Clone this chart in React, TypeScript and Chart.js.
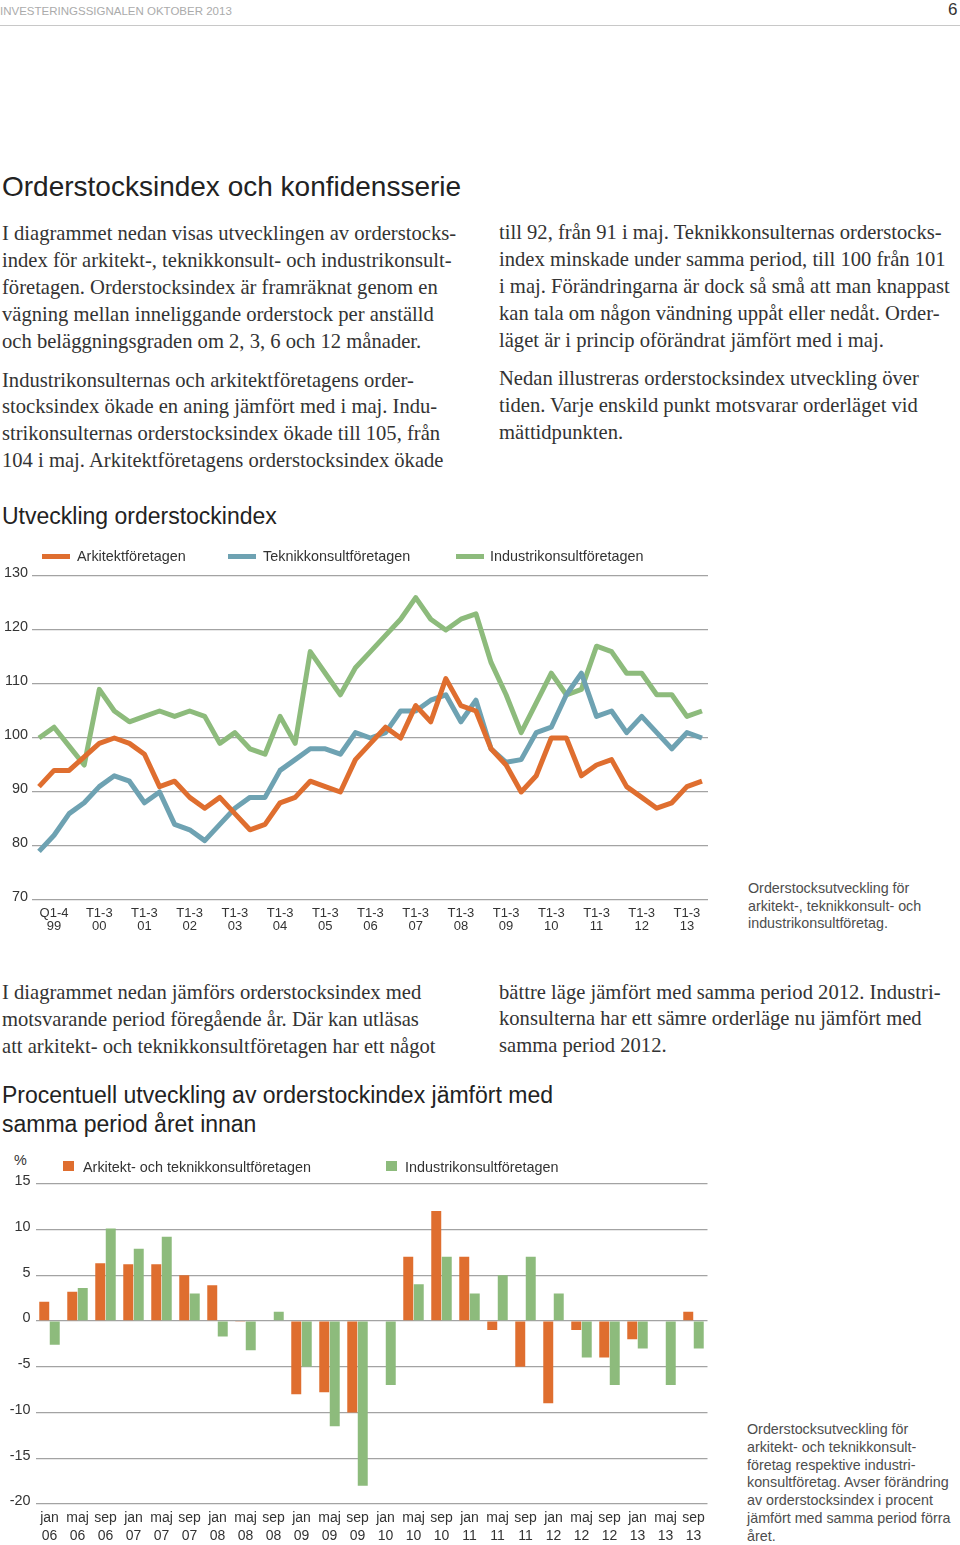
import React, { useEffect, useRef } from "react";
import { Chart, registerables } from "chart.js";

Chart.register(...registerables);

// ---------- Data: Utveckling orderstockindex (45 tertial points, 1999–2013) ----------
const lineYearLabels: string[][] = [
  ["Q1-4", "99"], ["T1-3", "00"], ["T1-3", "01"], ["T1-3", "02"], ["T1-3", "03"],
  ["T1-3", "04"], ["T1-3", "05"], ["T1-3", "06"], ["T1-3", "07"], ["T1-3", "08"],
  ["T1-3", "09"], ["T1-3", "10"], ["T1-3", "11"], ["T1-3", "12"], ["T1-3", "13"],
];
const arkitekt = [
  91, 94, 94, 96.5, 99, 100, 99, 97, 91, 92, 89, 87, 89, 86, 83,
  84, 88, 89, 92, 91, 90, 96, 99, 102, 100, 106, 103, 111, 106, 105,
  98, 95, 90, 93, 100, 100, 93, 95, 96, 91, 89, 87, 88, 91, 92,
];
const teknik = [
  79, 82, 86, 88, 91, 93, 92, 88, 90, 84, 83, 81, 84, 87, 89,
  89, 94, 96, 98, 98, 97, 101, 100, 101, 105, 105, 107, 108, 103, 107,
  98, 95.5, 96, 101, 102, 108, 112, 104, 105, 101, 104, 101, 98, 101, 100,
];
const industri = [
  100, 102, 98.5, 95, 109, 105, 103, 104, 105, 104, 105, 104, 99, 101, 98,
  97, 104, 99, 116, 112, 108, 113, 116, 119, 122, 126, 122, 120, 122, 123,
  114, 108, 101, 106.5, 112, 108, 109, 117, 116, 112, 112, 108, 108, 104, 105,
];
const lineSeriesNames = ["Arkitektföretagen", "Teknikkonsultföretagen", "Industrikonsultföretagen"];

// ---------- Data: Procentuell utveckling (jan/maj/sep 2006–2013) ----------
const barLabels: string[][] = [
  ["jan", "06"], ["maj", "06"], ["sep", "06"],
  ["jan", "07"], ["maj", "07"], ["sep", "07"],
  ["jan", "08"], ["maj", "08"], ["sep", "08"],
  ["jan", "09"], ["maj", "09"], ["sep", "09"],
  ["jan", "10"], ["maj", "10"], ["sep", "10"],
  ["jan", "11"], ["maj", "11"], ["sep", "11"],
  ["jan", "12"], ["maj", "12"], ["sep", "12"],
  ["jan", "13"], ["maj", "13"], ["sep", "13"],
];
const barArkTek = [
  2.1, 3.2, 6.3, 6.2, 6.2, 5.0, 3.9, -0.1, 0, -8.0, -7.8, -10,
  0, 7, 12, 7, -1, -5, -9, -1, -4, -2, 0, 1,
];
const barIndustri = [
  -2.6, 3.6, 10.1, 7.9, 9.2, 3.0, -1.7, -3.2, 1.0, -5.0, -11.5, -18,
  -7, 4, 7, 3, 5, 7, 3, -4, -7, -3, -7, -3,
];
const barSeriesNames = ["Arkitekt- och teknikkonsultföretagen", "Industrikonsultföretagen"];

// ---------- Styles ----------
const ORANGE = "#DF6E2F";
const TEAL = "#6EA2B2";
const GREEN = "#8DBB7C";
const GRID = "#a3a3a3";
const SANS = "'Liberation Sans', Arial, Helvetica, sans-serif";
const SERIF = "'Liberation Serif', 'Times New Roman', serif";
const TEXT = "#333";

function useChart(ref: React.RefObject<HTMLCanvasElement | null>, makeConfig: () => any) {
  useEffect(() => {
    if (!ref.current) return;
    const chart = new Chart(ref.current, makeConfig());
    return () => chart.destroy();
  }, []);
}

function LineChart() {
  const ref = useRef<HTMLCanvasElement | null>(null);
  useChart(ref, () => ({
    type: "line",
    data: {
      datasets: [arkitekt, teknik, industri].map((vals, s) => ({
        label: lineSeriesNames[s],
        data: vals.map((y, i) => ({ x: i, y })),
        borderColor: [ORANGE, TEAL, GREEN][s],
        backgroundColor: [ORANGE, TEAL, GREEN][s],
        borderWidth: 5,
        pointRadius: 0,
        tension: 0,
        fill: false,
        borderJoinStyle: "round",
      })),
    },
    options: {
      animation: false,
      responsive: false,
      maintainAspectRatio: false,
      layout: { padding: { top: 16, right: 12, left: 0, bottom: 0 } },
      plugins: { legend: { display: false }, tooltip: { enabled: false } },
      scales: {
        x: {
          type: "linear",
          min: -0.465,
          max: arkitekt.length - 1 + 0.4,
          grid: { display: false, drawTicks: false },
          border: { display: false },
          afterBuildTicks: (axis: any) => {
            axis.ticks = lineYearLabels.map((_, k) => ({ value: 1 + 3 * k }));
          },
          afterFit: (axis: any) => {
            axis.height = 40;
          },
          ticks: {
            autoSkip: false,
            maxRotation: 0,
            padding: 6.5,
            color: TEXT,
            font: { family: SANS, size: 13, lineHeight: 1.0 },
            callback: (value: number) => lineYearLabels[Math.round((value - 1) / 3)] || "",
          },
        },
        y: {
          min: 70,
          max: 130,
          grid: { color: GRID, lineWidth: 1.2, drawTicks: false },
          border: { display: false },
          afterFit: (axis: any) => {
            axis.width = 32;
          },
          ticks: {
            stepSize: 10,
            padding: 4,
            labelOffset: -3,
            color: TEXT,
            font: { family: SANS, size: 14.4 },
          },
        },
      },
    },
  }));
  return (
    <canvas
      ref={ref}
      width={720}
      height={380}
      style={{ position: "absolute", left: 0, top: 560, width: 720, height: 380, display: "block" }}
    />
  );
}

function BarChart() {
  const ref = useRef<HTMLCanvasElement | null>(null);
  useChart(ref, () => ({
    type: "bar",
    data: {
      labels: barLabels,
      datasets: [barArkTek, barIndustri].map((vals, s) => ({
        label: barSeriesNames[s],
        data: vals,
        backgroundColor: [ORANGE, GREEN][s],
        borderWidth: 0,
        categoryPercentage: 0.75,
        barPercentage: 0.95,
      })),
    },
    options: {
      animation: false,
      responsive: false,
      maintainAspectRatio: false,
      layout: { padding: { top: 12, right: 12.5, left: 0, bottom: 0 } },
      plugins: { legend: { display: false }, tooltip: { enabled: false } },
      scales: {
        x: {
          grid: { display: false, drawTicks: false },
          border: { display: false },
          afterFit: (axis: any) => {
            axis.height = 41;
          },
          ticks: {
            autoSkip: false,
            maxRotation: 0,
            padding: 5,
            color: TEXT,
            font: { family: SANS, size: 14, lineHeight: 1.3 },
          },
        },
        y: {
          min: -20,
          max: 15,
          grid: { color: GRID, lineWidth: 1.2, drawTicks: false },
          border: { display: false },
          afterFit: (axis: any) => {
            axis.width = 35.5;
          },
          ticks: {
            stepSize: 5,
            padding: 5,
            labelOffset: -2.5,
            color: TEXT,
            font: { family: SANS, size: 14.4 },
          },
        },
      },
    },
  }));
  return (
    <canvas
      ref={ref}
      width={720}
      height={375}
      style={{ position: "absolute", left: 0, top: 1170, width: 720, height: 375, display: "block" }}
    />
  );
}

function Block(props: {
  left: number;
  top: number;
  size: number;
  lh: number;
  lines: string[];
  font?: string;
  color?: string;
}) {
  return (
    <div
      style={{
        position: "absolute",
        left: props.left,
        top: props.top,
        fontFamily: props.font || SERIF,
        fontSize: props.size,
        lineHeight: props.lh + "px",
        color: props.color || TEXT,
        whiteSpace: "nowrap",
      }}
    >
      {props.lines.map((l, i) => (
        <div key={i}>{l}</div>
      ))}
    </div>
  );
}

export default function App() {
  useEffect(() => {
    document.body.style.margin = "0";
  }, []);
  const legendText = { position: "absolute" as const, fontFamily: SANS, fontSize: 14.4, lineHeight: "18px", color: TEXT, whiteSpace: "nowrap" as const };
  return (
    <div
      style={{
        position: "absolute",
        left: 0,
        top: 0,
        width: 960,
        height: 1545,
        overflow: "hidden",
        background: "#fff",
      }}
    >
      {/* header */}
      <div style={{ position: "absolute", left: 0, top: 4, fontFamily: SANS, fontSize: 11.5, lineHeight: "14px", color: "#ababab", whiteSpace: "nowrap" }}>
        INVESTERINGSSIGNALEN OKTOBER 2013
      </div>
      <div style={{ position: "absolute", left: 948, top: 0, fontFamily: SANS, fontSize: 17, lineHeight: "20px", color: "#333" }}>6</div>
      <div style={{ position: "absolute", left: 0, top: 25, width: 960, height: 1, background: "#c8c8c8" }} />

      {/* title */}
      <div style={{ position: "absolute", left: 2, top: 170, fontFamily: SANS, fontSize: 28, lineHeight: "34px", color: "#222", whiteSpace: "nowrap" }}>
        Orderstocksindex och konfidensserie
      </div>

      <Block left={2} top={219.5} size={20.6} lh={27} lines={[
        "I diagrammet nedan visas utvecklingen av orderstocks-",
        "index för arkitekt-, teknikkonsult- och industrikonsult-",
        "företagen. Orderstocksindex är framräknat genom en",
        "vägning mellan inneliggande orderstock per anställd",
        "och beläggningsgraden om 2, 3, 6 och 12 månader.",
      ]} />
      <Block left={2} top={366.6} size={20.6} lh={26.7} lines={[
        "Industrikonsulternas och arkitektföretagens order-",
        "stocksindex ökade en aning jämfört med i maj. Indu-",
        "strikonsulternas orderstocksindex ökade till 105, från",
        "104 i maj. Arkitektföretagens orderstocksindex ökade",
      ]} />
      <Block left={499} top={218.5} size={20.6} lh={27} lines={[
        "till 92, från 91 i maj. Teknikkonsulternas orderstocks-",
        "index minskade under samma period, till 100 från 101",
        "i maj. Förändringarna är dock så små att man knappast",
        "kan tala om någon vändning uppåt eller nedåt. Order-",
        "läget är i princip oförändrat jämfört med i maj.",
      ]} />
      <Block left={499} top={364.5} size={20.6} lh={27} lines={[
        "Nedan illustreras orderstocksindex utveckling över",
        "tiden. Varje enskild punkt motsvarar orderläget vid",
        "mättidpunkten.",
      ]} />

      {/* chart 1 */}
      <div style={{ position: "absolute", left: 2, top: 502, fontFamily: SANS, fontSize: 23, lineHeight: "28px", color: "#222", whiteSpace: "nowrap" }}>
        Utveckling orderstockindex
      </div>
      <LineChart />
      {[
        { x: 42, tx: 77, c: ORANGE },
        { x: 228, tx: 263, c: TEAL },
        { x: 456, tx: 490, c: GREEN },
      ].map((l, i) => (
        <React.Fragment key={i}>
          <div style={{ position: "absolute", left: l.x, top: 553.5, width: 28, height: 5, background: l.c }} />
          <div style={{ ...legendText, left: l.tx, top: 547 }}>{lineSeriesNames[i]}</div>
        </React.Fragment>
      ))}
      <Block left={748} top={880} size={14.3} lh={17.6} font={SANS} color="#4d4d4d" lines={[
        "Orderstocksutveckling för",
        "arkitekt-, teknikkonsult- och",
        "industrikonsultföretag.",
      ]} />

      {/* middle text */}
      <Block left={2} top={978.5} size={20.6} lh={27} lines={[
        "I diagrammet nedan jämförs orderstocksindex med",
        "motsvarande period föregående år. Där kan utläsas",
        "att arkitekt- och teknikkonsultföretagen har ett något",
      ]} />
      <Block left={499} top={978.5} size={20.6} lh={26.6} lines={[
        "bättre läge jämfört med samma period 2012. Industri-",
        "konsulterna har ett sämre orderläge nu jämfört med",
        "samma period 2012.",
      ]} />

      {/* chart 2 */}
      <Block left={2} top={1080.5} size={23} lh={29} font={SANS} color="#222" lines={[
        "Procentuell utveckling av orderstockindex jämfört med",
        "samma period året innan",
      ]} />
      <div style={{ ...legendText, left: 14, top: 1151 }}>%</div>
      <BarChart />
      {[
        { x: 63, tx: 83, c: ORANGE },
        { x: 386, tx: 405, c: GREEN },
      ].map((l, i) => (
        <React.Fragment key={i}>
          <div style={{ position: "absolute", left: l.x, top: 1161, width: 11, height: 10, background: l.c }} />
          <div style={{ ...legendText, left: l.tx, top: 1157.5 }}>{barSeriesNames[i]}</div>
        </React.Fragment>
      ))}
      <Block left={747} top={1421} size={14.3} lh={17.8} font={SANS} color="#4d4d4d" lines={[
        "Orderstocksutveckling för",
        "arkitekt- och teknikkonsult-",
        "företag respektive industri-",
        "konsultföretag. Avser förändring",
        "av orderstocksindex i procent",
        "jämfört med samma period förra",
        "året.",
      ]} />
    </div>
  );
}
